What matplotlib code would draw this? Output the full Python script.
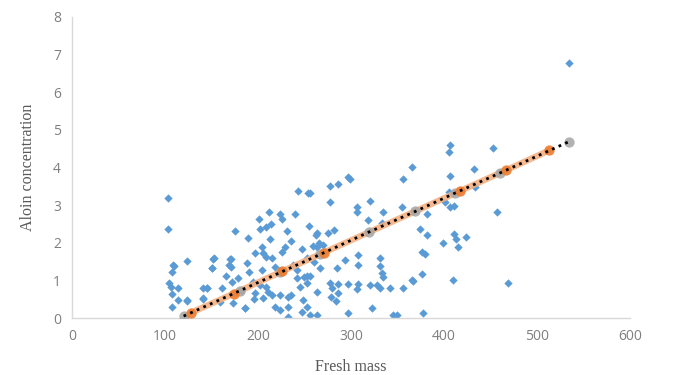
#!/usr/bin/env python3
"""
Aloin concentration vs fresh mass scatter with trendline
"""
import matplotlib
matplotlib.use("Agg")
import matplotlib.pyplot as plt

# Measured samples (fresh mass, aloin concentration)
fresh_mass = [
    103, 103, 124, 110, 108, 104, 106, 114, 108, 114, 124, 108, 141, 141,
    109, 152, 151, 170, 171, 145, 141, 124, 186,
    243, 254, 212, 224, 240, 201, 226, 175, 202, 209, 231, 189, 213, 204,
    229, 197, 205, 247, 209, 215, 153, 171, 188, 253, 151, 169, 204, 190,
    242, 242, 253, 172, 195, 202, 145, 161, 209, 245, 183, 197, 215, 224,
    232, 205, 173, 159, 218, 232, 224, 247, 232, 186,
    297, 299, 277, 286, 256, 277, 356, 320, 307, 307, 334, 355, 318, 333,
    255, 263, 275, 259, 264, 308, 331, 294, 308, 331, 267, 285, 333, 256,
    334, 253, 277, 286, 297, 308, 320, 328, 280, 307, 331, 342, 356, 264,
    286, 253, 256, 263, 297, 323, 345, 350, 366,
    406, 405, 453, 366, 432, 406, 405, 401, 406, 411, 433, 457, 382, 374,
    382, 399, 411, 413, 424, 415, 376, 380, 376, 367, 410, 469, 378, 534,
    236, 262, 270, 282, 218, 226, 238, 250, 266, 279, 284, 214, 260,
    196, 211, 236, 248, 178, 166,
]
aloin = [
    3.19, 2.37, 1.52, 1.38, 1.22, 0.93, 0.82, 0.80, 0.64, 0.48, 0.48, 0.29, 0.53, 0.80,
    1.41, 1.57, 1.33, 1.57, 1.35, 0.80, 0.50, 0.45, 0.27,
    3.38, 3.32, 2.82, 2.77, 2.77, 2.63, 2.63, 2.31, 2.37, 2.42, 2.31, 2.13, 2.10, 1.89,
    1.89, 1.73, 1.73, 1.84, 1.62, 1.60, 1.60, 1.57, 1.46, 1.60, 1.33, 1.41, 1.28, 1.22,
    1.28, 1.06, 1.12, 0.96, 0.96, 0.88, 0.80, 0.80, 0.82, 0.82, 0.74, 0.66, 0.61, 0.61,
    0.56, 0.53, 0.40, 0.43, 0.29, 0.29, 0.21, 0.16, 0.03, 0.27,
    3.75, 3.68, 3.51, 3.56, 3.32, 3.09, 3.70, 3.11, 2.95, 2.82, 2.82, 2.95, 2.61, 2.53,
    2.45, 2.26, 2.26, 1.91, 1.89, 1.68, 1.60, 1.54, 1.41, 1.38, 1.33, 1.33, 1.20, 1.12,
    1.09, 0.93, 0.93, 0.90, 0.90, 0.90, 0.88, 0.88, 0.80, 0.77, 0.80, 0.80, 0.80, 0.69,
    0.66, 0.29, 0.08, 0.08, 0.13, 0.27, 0.08, 0.08, 1.01,
    4.60, 4.41, 4.52, 4.00, 3.96, 3.78, 3.35, 3.09, 2.95, 2.98, 3.48, 2.82, 2.77, 2.37,
    2.21, 2.00, 2.23, 2.10, 2.15, 1.89, 1.76, 1.70, 1.17, 0.98, 1.01, 0.93, 0.13, 6.78,
    2.05, 2.20, 1.95, 2.35, 1.35, 1.75, 1.40, 1.10, 2.00, 0.55, 0.45, 2.50, 1.50,
    0.50, 0.70, 0.62, 0.48, 1.05, 1.12,
]

# Trendline points
trend_x = [120, 181, 224, 267, 319, 369, 412, 460, 534]
trend_y = [0.05, 0.73, 1.21, 1.69, 2.28, 2.83, 3.32, 3.85, 4.68]
pred_x = [128, 174, 226, 271, 417, 467, 513]
pred_y = [0.14, 0.65, 1.24, 1.74, 3.37, 3.93, 4.45]

x_ticks = [0, 100, 200, 300, 400, 500, 600]
y_ticks = [0, 1, 2, 3, 4, 5, 6, 7, 8]

fig = plt.figure(figsize=(6.73, 3.75), dpi=100)
ax = fig.add_axes([0.107, 0.152, 0.829, 0.803])

ax.scatter(fresh_mass, aloin, marker="D", s=18, color="#5B9BD5",
           linewidths=0, zorder=2)

# predicted values: light orange band + orange dots
ax.plot(pred_x, pred_y, color="#F4B183", linewidth=4.5, alpha=0.9,
        solid_capstyle="round", zorder=3)
ax.scatter(trend_x, trend_y, s=55, color="#A5A5A5", alpha=0.85,
           linewidths=0, zorder=4)
ax.scatter(pred_x, pred_y, s=55, color="#ED7D31", alpha=0.9,
           linewidths=0, zorder=5)
ax.plot(trend_x, trend_y, color="black", linewidth=2.0,
        linestyle=(0, (1, 1.6)), zorder=6)

ax.set_xlim(0, 600)
ax.set_ylim(0, 8)
ax.set_xticks(x_ticks)
ax.set_yticks(y_ticks)
ax.tick_params(length=0, labelsize=10, labelcolor="#7F7F7F", pad=8)
for lab in ax.get_xticklabels() + ax.get_yticklabels():
    lab.set_family("Open Sans")

for side in ("top", "right"):
    ax.spines[side].set_visible(False)
for side in ("left", "bottom"):
    ax.spines[side].set_color("#D9D9D9")
    ax.spines[side].set_linewidth(1.0)

ax.set_xlabel("Fresh mass", family="Liberation Serif", fontsize=11.5,
              color="#595959", labelpad=11)
ax.set_ylabel("Aloin concentration", family="Liberation Serif", fontsize=11.5,
              color="#595959", labelpad=12)

fig.savefig("out.png", dpi=100)
